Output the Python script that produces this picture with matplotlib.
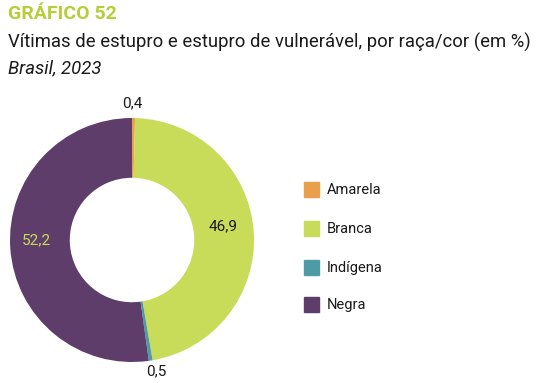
import matplotlib.pyplot as plt
from matplotlib.patches import Rectangle

# Dados
categorias = ['Amarela', 'Branca', 'Indígena', 'Negra']
valores = [0.4, 46.9, 0.5, 52.2]
cores = ['#E8A04A', '#C8DC5A', '#4E9BA8', '#5E3D6B']
rotulos = ['0,4', '46,9', '0,5', '52,2']

plt.rcParams['font.family'] = ['Roboto', 'DejaVu Sans']

W, H = 540, 383
fig = plt.figure(figsize=(W / 100, H / 100), dpi=100)

# eixo do donut: centro (132, 240) px, raio 122 px
cx, cy, r = 132, 240, 122
ax = fig.add_axes([(cx - r) / W, (H - cy - r) / H, 2 * r / W, 2 * r / H])
wedges, _ = ax.pie(valores, colors=cores, startangle=90, counterclock=False,
                   radius=1, wedgeprops=dict(width=0.49, edgecolor='none'))
ax.set_xlim(-1, 1)
ax.set_ylim(-1, 1)
ax.set_aspect('equal')
ax.axis('off')

# rótulos
ax.text(0.0, 1.12, rotulos[0], ha='center', va='center', fontsize=11, color='#1a1a1a')
ax.text(0.75, 0.11, rotulos[1], ha='center', va='center', fontsize=11, color='#1a1a1a')
ax.text(0.2, -1.08, rotulos[2], ha='center', va='center', fontsize=11, color='#1a1a1a')
ax.text(-0.78, 0.0, rotulos[3], ha='center', va='center', fontsize=11, color='#C8DC5A')

# legenda
ys = [190, 229, 268, 305]
for cat, cor, y in zip(categorias, cores, ys):
    fig.patches.append(Rectangle((304 / W, (H - y - 7) / H), 15 / W, 15 / H,
                                 transform=fig.transFigure, color=cor))
    fig.text(327 / W, (H - y) / H, cat, ha='left', va='center', fontsize=10.5, color='#1a1a1a')

# títulos
fig.text(8 / W, (H - 14) / H, 'GRÁFICO 52', ha='left', va='center', fontsize=14,
         fontweight='bold', color='#B5CF3A')
fig.text(8 / W, (H - 42) / H, 'Vítimas de estupro e estupro de vulnerável, por raça/cor (em %)',
         ha='left', va='center', fontsize=13.3, color='#1a1a1a')
fig.text(8 / W, (H - 68) / H, 'Brasil, 2023', ha='left', va='center', fontsize=13.3,
         style='italic', color='#1a1a1a')

fig.savefig('out.png', dpi=100)
